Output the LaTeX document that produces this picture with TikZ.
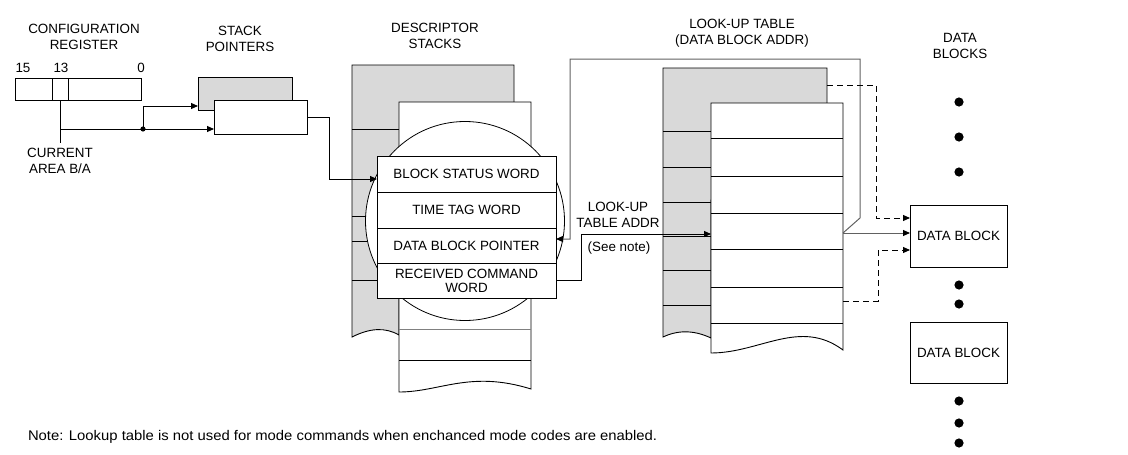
\documentclass[tikz,border=0pt]{standalone}
\usepackage{fontspec}
\setmainfont{Liberation Sans}
\usetikzlibrary{arrows.meta,calc}
\begin{document}
\begin{tikzpicture}[x=1pt,y=-1pt,line width=0.9pt,
  every node/.style={font=\fontsize{13.4pt}{16pt}\selectfont, inner sep=0pt, outer sep=0pt},
  cell/.style={draw, fill=white, anchor=north west},
  grayfill/.style={draw, fill=black!15, anchor=north west},
  arr/.style={-{Triangle[length=7pt,width=6pt,color=black]}},
  ttl/.style={align=center},
  dashline/.style={dash pattern=on 6pt off 4pt},
  fbline/.style={draw=black!62, line width=1pt}]
\useasboundingbox (0,0) rectangle (1128,455);

% ---------- configuration register ----------
\node[ttl] (cfgT) at (84,36.5) {CONFIGURATION\\REGISTER};
\node (b15) at (23,68) {15};
\node (b13) at (61,68) {13};
\node (b0) at (141,68) {0};
\node[cell, minimum width=37pt, minimum height=22pt] (r15) at (15,78) {};
\node[cell, minimum width=16pt, minimum height=22pt] (r13) at (52,78) {};
\node[cell, minimum width=73pt, minimum height=22pt] (r0) at (68,78) {};
\coordinate (curtop) at (60,143);
\coordinate (jn) at (60,129);
\coordinate (dotp) at (143,129);
\node[ttl] (cur) at (60,161) {CURRENT\\AREA B/A};

% ---------- stack pointers ----------
\node[ttl] (spT) at (240,38.5) {STACK\\POINTERS};
\node[grayfill, minimum width=94pt, minimum height=33pt] (sp1) at (198,77) {};
\node[cell, minimum width=93pt, minimum height=34pt] (sp2) at (214,100) {};
\draw (r13.south) -- (curtop);
\draw[arr] (jn) -- (jn -| sp2.west);
\draw[arr] (dotp) |- ([yshift=4pt]sp1.south west);
\fill (dotp) circle (2.6pt);

% ---------- descriptor stacks ----------
\node[ttl] (dsT) at (435,36) {DESCRIPTOR\\STACKS};
\filldraw[fill=black!15] (352,337) -- (352,65) -- (514,65) -- (514,200) -- (399,200) -- (399,335)
  .. controls (385,327) and (370,328) .. (352,337) -- cycle;
\foreach \yy in {129,216,241,280} \draw (352,\yy) -- (399,\yy);
\filldraw[fill=white] (399,392) -- (399,102) -- (531,102) -- (531,389)
  .. controls (470,370) and (440,392) .. (399,392) -- cycle;
\draw[draw=black!50] (399,329) -- (531,329);
\draw (399,360) -- (531,360);
\node[circle, draw, fill=white, minimum size=199pt, line width=0.8pt] (lens) at (465,221) {};
\node[cell, minimum width=179pt, minimum height=36pt] (bsw) at (377,156) {BLOCK STATUS WORD};
\node[cell, minimum width=179pt, minimum height=36pt] (ttw) at (377,192) {TIME TAG WORD};
\node[cell, minimum width=179pt, minimum height=35pt] (dbp) at (377,228) {DATA BLOCK POINTER};
\node[cell, minimum width=179pt, minimum height=35pt, align=center,
  font=\fontsize{13.4pt}{14pt}\selectfont] (rcw) at (377,263) {RECEIVED COMMAND\\WORD};
\draw[arr] (sp2.east) -- ++(22,0) |- ([yshift=-5pt]bsw.west);

% ---------- look-up table ----------
\node[ttl] (luT) at (742,33.5) {LOOK-UP TABLE\\(DATA BLOCK ADDR)};
\filldraw[fill=black!15] (663,337) -- (663,68) -- (827,68) -- (827,200) -- (711,200) -- (711,338)
  .. controls (696,331) and (680,329) .. (663,337) -- cycle;
\foreach \yy in {131,167,202,236,270,305} \draw (663,\yy) -- (711,\yy);
\filldraw[fill=white] (711,353) -- (711,103) -- (843,103) -- (843,350)
  .. controls (800,318) and (760,353) .. (711,353) -- cycle;
\foreach \yy in {138,176,213,249,287,323} \draw (711,\yy) -- (843,\yy);
\coordinate (lutin) at (711,234);
\coordinate (lutout) at (843,233);
\coordinate (lutgray) at (827,85);
\coordinate (lutlow) at (843,301);

% ---------- data blocks ----------
\node[ttl] (dbT) at (960,45.5) {DATA\\BLOCKS};
\node[cell, minimum width=97pt, minimum height=62pt] (db1) at (910,205) {DATA BLOCK};
\node[cell, minimum width=97pt, minimum height=61pt] (db2) at (910,322) {DATA BLOCK};
\foreach \yy in {102,137,172,285,304,401,423,443} \fill (959,\yy) circle (4.6pt);

% ---------- connectors ----------
\draw[arr] (rcw.east) -- ++(25,0) |- (lutin);
\node[ttl] (luaT) at (618,215) {LOOK-UP\\TABLE ADDR};
\node (seen) at (619,248) {(See note)};
\draw[arr, fbline] (lutout) -- (860,218) -- (860,59) -- (570,59) |- ([yshift=6.5pt]dbp.east);
\draw[arr, fbline] (lutout) -- (lutout -| db1.west);
\draw[arr, dashline] (lutgray) -- (876,85) |- ([yshift=18pt]db1.west);
\draw[arr, dashline] (lutlow) -- (878,301) |- ([yshift=-14pt]db1.west);

% ---------- note ----------
\node[anchor=west, font=\fontsize{14pt}{16pt}\selectfont] (note) at (28,437) {\scalebox{1.06}[1]{Note: Lookup table is not used for mode commands when enchanced mode codes are enabled.}};
\end{tikzpicture}
\end{document}
